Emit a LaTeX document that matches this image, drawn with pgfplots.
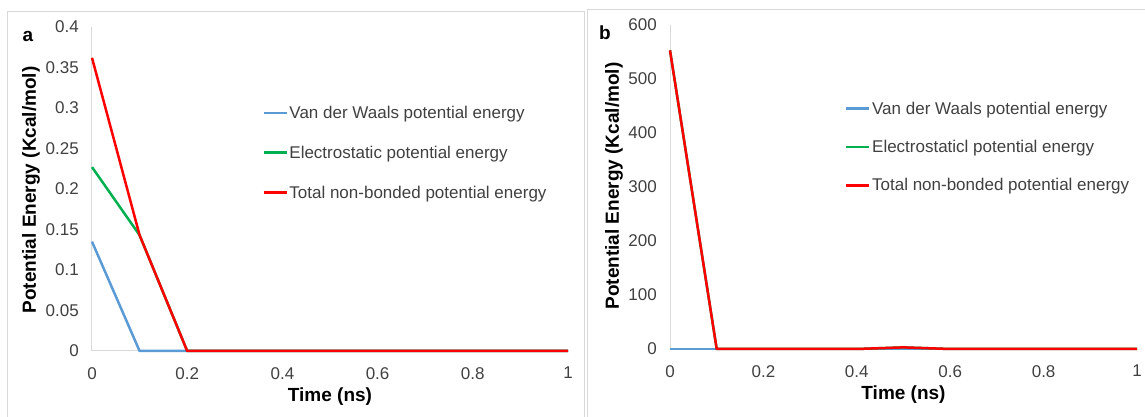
\documentclass[border=0pt]{standalone}
\usepackage{fontspec}
\setmainfont{Liberation Sans}
\usepackage{pgfplots}
\pgfplotsset{compat=1.18}
\definecolor{cblue}{HTML}{5B9BD5}
\definecolor{cgreen}{HTML}{00B050}
\definecolor{cred}{HTML}{FF0000}
\definecolor{cgrid}{HTML}{D9D9D9}
\definecolor{ctick}{HTML}{404040}
\pgfplotsset{
  common/.style={
    scale only axis, clip=false,
    xmin=0, xmax=1,
    axis x line*=bottom, axis y line*=left,
    axis line style={cgrid, line width=1pt},
    major tick length=0pt,
    xtick={0,0.2,0.4,0.6,0.8,1},
    xticklabels={0,0.2,0.4,0.6,0.8,1},
    tick label style={font=\fontsize{17}{20}\selectfont, text=ctick},
    yticklabel style={anchor=east, inner sep=0pt, xshift=-13pt},
    xticklabel style={anchor=north, inner sep=0pt, yshift=-16pt},
    /pgf/number format/assume math mode=true,
    label style={font=\bfseries\fontsize{19}{22}\selectfont, text=black},
    every axis plot/.append style={line width=2.5pt, line join=round},
    legend image code/.code={\draw[#1, line width=2.8pt] (0pt,0pt) -- (23pt,0pt);},
    legend cell align=left,
    legend style={draw=none, fill=none, inner sep=0pt, row sep=23pt,
      font=\fontsize{17}{20}\selectfont, text=ctick,
      nodes={inner sep=1.5pt}},
  }
}
\begin{document}
\begin{tikzpicture}[x=1pt,y=1pt]
\path[use as bounding box] (0pt,0pt) rectangle (1145pt,417pt);
% panel frames
\draw[cgrid, line width=1pt] (7pt,-5pt) -- (7pt,405pt) -- (584pt,405pt) -- (584pt,-5pt);
\draw[cgrid, line width=1pt] (587pt,-5pt) -- (587pt,407pt) -- (1150pt,407pt);
\node[font=\bfseries\fontsize{19}{22}\selectfont] at (28pt,381pt) {a};
\node[font=\bfseries\fontsize{19}{22}\selectfont] at (605pt,384pt) {b};
\begin{axis}[common,
  at={(92pt,66pt)}, anchor=south west, width=476pt, height=324pt,
  ymin=0, ymax=0.4,
  ytick={0,0.05,0.1,0.15,0.2,0.25,0.3,0.35,0.4},
  yticklabels={0,0.05,0.1,0.15,0.2,0.25,0.3,0.35,0.4},
  xlabel={Time (ns)}, ylabel={Potential Energy (Kcal/mol)},
  xlabel style={at={(axis description cs:0.5,-0.142)}, anchor=center},
  ylabel style={at={(axis description cs:-0.128,0.497)}, anchor=center, rotate=0},
  legend style={at={(axis description cs:0.357,0.761)}, anchor=north west},
]
\addplot[cblue] coordinates {(0,0.135) (0.1,0) (0.2,0) (0.3,0) (0.4,0) (0.5,0) (0.6,0) (0.7,0) (0.8,0) (0.9,0) (1,0)};
\addlegendentry{Van der Waals potential energy}
\addplot[cgreen] coordinates {(0,0.227) (0.1,0.143) (0.2,0) (0.3,0) (0.4,0) (0.5,0) (0.6,0) (0.7,0) (0.8,0) (0.9,0) (1,0)};
\addlegendentry{Electrostatic potential energy}
\addplot[cred] coordinates {(0,0.362) (0.1,0.143) (0.2,0) (0.3,0) (0.4,0) (0.5,0) (0.6,0) (0.7,0) (0.8,0) (0.9,0) (1,0)};
\addlegendentry{Total non-bonded potential energy}
\end{axis}
\begin{axis}[common,
  at={(670pt,68pt)}, anchor=south west, width=467pt, height=324pt,
  ymin=0, ymax=600,
  ytick={0,100,200,300,400,500,600},
  xlabel={Time (ns)}, ylabel={Potential Energy (Kcal/mol)},
  xlabel style={at={(axis description cs:0.5,-0.142)}, anchor=center},
  ylabel style={at={(axis description cs:-0.12,0.503)}, anchor=center, rotate=0},
  legend style={at={(axis description cs:0.374,0.768)}, anchor=north west, row sep=21.5pt},
]
\addplot[cblue] coordinates {(0,0) (0.1,0) (0.2,0) (0.3,0) (0.4,0) (0.5,0) (0.6,0) (0.7,0) (0.8,0) (0.9,0) (1,0)};
\addlegendentry{Van der Waals potential energy}
\addplot[cgreen] coordinates {(0,553) (0.1,0) (0.2,0) (0.3,0) (0.4,0) (0.5,3) (0.6,0) (0.7,0) (0.8,0) (0.9,0) (1,0)};
\addlegendentry{Electrostaticl potential energy}
\addplot[cred] coordinates {(0,553) (0.1,0) (0.2,0) (0.3,0) (0.4,0) (0.5,3) (0.6,0) (0.7,0) (0.8,0) (0.9,0) (1,0)};
\addlegendentry{Total non-bonded potential energy}
\end{axis}
\end{tikzpicture}
\end{document}
